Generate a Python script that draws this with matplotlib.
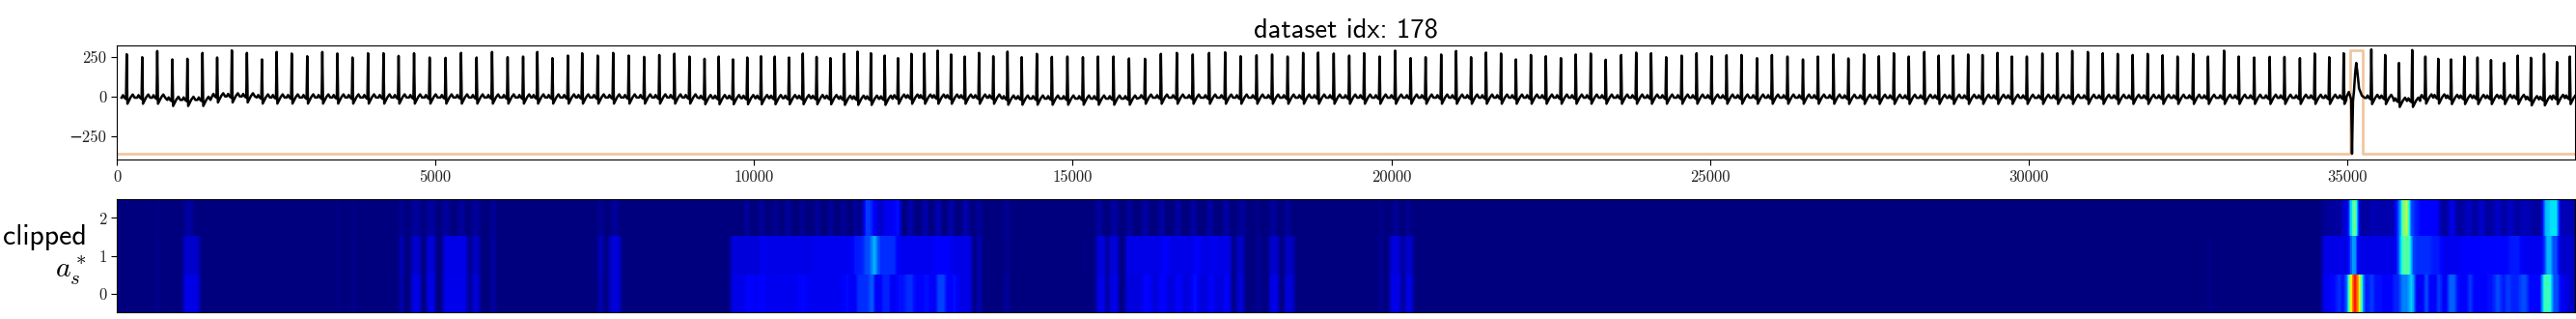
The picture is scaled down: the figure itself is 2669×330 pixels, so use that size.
import numpy as np
import matplotlib
matplotlib.use('Agg')
import matplotlib.pyplot as plt

plt.rcParams['mathtext.fontset'] = 'cm'
plt.rcParams['axes.unicode_minus'] = False

# R peak positions and heights
beat_x = [155, 399, 635, 872, 1108, 1345, 1575, 1805, 2042, 2278,
          2508, 2745, 2988, 3225, 3462, 3698, 3942, 4185, 4422, 4665,
          4909, 5159, 5402, 5646, 5889, 6133, 6376, 6599, 6836, 7079,
          7303, 7546, 7789, 8033, 8276, 8513, 8750,
          8986, 9223, 9446, 9669, 9893, 10109, 10325, 10548, 10765, 10981,
          11198, 11414, 11624, 11833, 12050, 12259, 12469, 12672, 12881, 13091,
          13307, 13530, 13754, 13977, 14200, 14437, 14673, 14917, 15160, 15397,
          15640, 15884, 16134, 16384, 16634, 16884, 17141, 17392, 17635, 17885,
          18129, 18372, 18616, 18852, 19096, 19339,
          19573, 19816, 20060, 20303, 20538, 20782, 21016, 21251, 21486, 21721,
          21955, 22190, 22425, 22660, 22894, 23129, 23364, 23607, 23842, 24077,
          24312, 24555, 24790, 25025, 25260, 25494, 25738, 25972, 26216, 26459,
          26694, 26938, 27172, 27416, 27651, 27885, 28120, 28364, 28590, 28816,
          29051, 29277, 29512, 29737, 29972, 30216, 30451, 30685, 30929, 31164,
          31398, 31633, 31868, 32103, 32337, 32581, 32816,
          33066, 33298, 33540, 33783, 34015, 34257, 34489, 34717, 34944,
          35378, 35595, 35812, 36019, 36226, 36428, 36630, 36837, 37044, 37256,
          37463, 37675, 37882, 38089, 38291, 38493]
beat_h = [265, 246, 285, 232, 236, 273, 244, 289, 273, 232,
          279, 269, 252, 279, 269, 244, 271, 271, 254, 271,
          244, 242, 273, 244, 279, 246, 250, 279, 240, 256,
          271, 256, 273, 256, 248, 260, 268,
          250, 236, 250, 232, 244, 252, 250, 244, 269, 248,
          240, 267, 281, 271, 256, 240, 267, 269, 287, 263,
          250, 273, 252, 281, 246, 267, 248, 250, 246, 250,
          250, 238, 236, 267, 273, 263, 273, 277, 252, 258,
          263, 250, 273, 275, 269, 256,
          271, 250, 287, 240, 246, 263, 285, 246, 275, 269,
          232, 260, 252, 240, 263, 269, 230, 260, 275, 271,
          246, 256, 271, 252, 258, 260, 240, 260, 250, 232,
          250, 263, 238, 263, 252, 271, 250, 279, 256, 256,
          263, 260, 273, 250, 250, 269, 271, 285, 279, 271,
          267, 260, 267, 258, 250, 267, 250,
          287, 250, 244, 248, 248, 240, 269, 246, 271,
          295, 260, 210, 291, 250, 236, 232, 250, 244, 228,
          210, 256, 242, 267, 216, 250]

# one normal beat around its R peak (offset, level above the baseline)
shape_off = [-80, -58, -36, -10, 0, 12, 40, 62, 95, 125]
shape_amp = [0, 16, 0, -8, 0, -38, -16, 2, 20, 0]

# baseline level, stepwise from these positions on
wander_x = [0, 750, 1450, 2100, 9000, 11400, 12200, 13900, 15000, 16000, 19000, 27000,
            35300, 35700, 36100, 36500, 37800, 38150]
wander_y = [-8, -22, 0, -7, -11, -15, -8, -14, -14, -8, -8, -9,
            -10, -28, -7, -10, -18, -10]

# the wide beat near 35000
pvc_x = [34990, 35025, 35062, 35075, 35090, 35105, 35125, 35141, 35160, 35185, 35230, 35270]
pvc_y = [-2, 28, -20, -360, -30, 30, 150, 210, 150, 50, 5, -8]

# orange marker
mark_x = [0, 35050, 35050, 35237, 35237, 38570]
mark_y = [-360, -360, 291, 291, -360, -360]

# heatmap spans per row: (start, end, level)
row0 = [(638, 667, .02), (1044, 1305, .09), (3462, 3497, .015), (3699, 3740, .02),
        (4436, 4505, .05), (4638, 4772, .09), (4876, 5004, .09), (5120, 5508, .095),
        (5583, 5711, .08), (5885, 5943, .04), (7566, 7636, .05), (7728, 7914, .08),
        (9640, 9871, .09), (9871, 9900, .1), (9900, 9976, .13), (9976, 10074, .1),
        (10074, 10161, .12), (10161, 10712, .1), (10712, 10828, .13), (10828, 11408, .1),
        (11408, 11495, .14), (11495, 11611, .1), (11611, 11814, .17), (11814, 11900, .22),
        (11900, 11987, .1), (11987, 12144, .16), (12144, 12231, .09), (12231, 12376, .14),
        (12376, 12527, .17), (12527, 12654, .11), (12654, 12770, .14), (12770, 12857, .1),
        (12857, 13013, .19), (13013, 13089, .11), (13089, 13187, .14), (13187, 13408, .09),
        (13495, 13582, .05), (13947, 13987, .04),
        (15367, 15530, .09), (15582, 15726, .09), (15836, 17488, .085),
        (16126, 16213, .13), (16375, 16456, .13), (16630, 16705, .12), (16879, 16966, .14),
        (17140, 17210, .12), (17389, 17453, .12),
        (17575, 17691, .08), (17894, 17940, .03), (18085, 18224, .09), (18328, 18473, .08),
        (19818, 19865, .02), (19981, 20155, .09), (20195, 20240, .07), (20240, 20346, .09),
        (32810, 32850, .015),
        (34596, 34722, .1), (34722, 34823, .13), (34823, 34899, .17), (34899, 34974, .13),
        (34974, 35025, .25), (35025, 35065, .62), (35065, 35156, .88), (35156, 35202, .65),
        (35202, 35252, .35), (35252, 35353, .15), (35353, 35404, .2), (35404, 35555, .14),
        (35555, 35706, .12), (35706, 35833, .16), (35833, 35959, .25), (35959, 36045, .33),
        (36045, 36075, .2), (36075, 36196, .1), (36196, 36262, .22), (36262, 36413, .11),
        (36413, 36464, .2), (36464, 36565, .1), (36565, 36716, .22), (36716, 36893, .12),
        (36893, 36969, .18), (36969, 37171, .12), (37171, 37297, .14), (37297, 37398, .2),
        (37398, 37499, .15), (37499, 37549, .2), (37549, 37701, .16), (37701, 37827, .2),
        (37827, 38054, .13), (38054, 38206, .42), (38206, 38332, .2), (38332, 38433, .1),
        (38433, 38584, .07)]
row1 = [(638, 667, .02), (1044, 1305, .07), (3462, 3497, .015), (3699, 3740, .02),
        (4436, 4505, .06), (4638, 4772, .07), (4876, 5004, .08), (5120, 5508, .09),
        (5583, 5711, .06), (5885, 5943, .04), (7566, 7636, .06), (7728, 7914, .08),
        (9640, 10103, .08), (10103, 10219, .1), (10219, 10915, .09), (10915, 11553, .1),
        (11553, 11727, .15), (11727, 11842, .2), (11842, 11947, .3), (11947, 12248, .17),
        (12248, 12828, .1), (12828, 13089, .11), (13089, 13408, .09),
        (13495, 13582, .05), (13958, 13987, .03), (15169, 15204, .015),
        (15367, 15530, .08), (15582, 15726, .08), (15836, 17488, .09),
        (16415, 16502, .11), (16908, 16995, .11), (17169, 17256, .1),
        (17575, 17691, .07), (17894, 17940, .03), (18085, 18224, .07), (18328, 18473, .06),
        (19818, 19865, .02), (19981, 20155, .08), (20195, 20346, .07), (32810, 32850, .015),
        (34596, 35025, .09), (35025, 35075, .2), (35075, 35116, .4), (35116, 35166, .18),
        (35166, 35782, .09), (35782, 35843, .25), (35843, 35984, .45), (35984, 36060, .2),
        (36060, 36312, .17), (36312, 36464, .15), (36464, 36792, .1), (36792, 37044, .12),
        (37044, 37549, .13), (37549, 37726, .15), (37726, 38079, .1), (38079, 38130, .2),
        (38130, 38180, .38), (38180, 38307, .2), (38307, 38584, .07)]
row2 = [(638, 667, .015), (1062, 1201, .03), (3462, 3497, .01), (3699, 3740, .015),
        (4436, 4505, .02), (4638, 4772, .025), (4876, 5004, .03), (5131, 5218, .03),
        (5375, 5467, .03), (5583, 5711, .025), (5885, 5943, .03), (7566, 7636, .02),
        (7769, 7856, .03),
        (9871, 9929, .035), (10092, 10150, .035), (10306, 10364, .035), (10509, 10567, .035),
        (10741, 10799, .035), (10973, 11031, .035), (11176, 11234, .035), (11379, 11437, .035),
        (11582, 11640, .035), (11726, 11842, .18), (11842, 11900, .14), (11900, 11958, .09),
        (11958, 12016, .06), (12016, 12219, .1), (12219, 12295, .14), (12422, 12509, .05),
        (12654, 12724, .05), (12845, 12932, .05), (13060, 13129, .05), (13292, 13361, .05),
        (13495, 13570, .03), (13947, 13987, .03),
        (15372, 15470, .035), (15604, 15702, .035), (15865, 15934, .035), (16108, 16189, .04),
        (16357, 16444, .04), (16618, 16688, .04), (16862, 16943, .04), (17111, 17186, .04),
        (17360, 17442, .04), (17615, 17697, .03), (17882, 17928, .015), (18097, 18184, .03),
        (18346, 18404, .035), (19818, 19865, .015), (20040, 20100, .03), (20250, 20300, .03),
        (34596, 34722, .02), (34722, 34924, .03), (34924, 35025, .08), (35025, 35065, .3),
        (35065, 35151, .5), (35151, 35176, .2), (35176, 35353, .03), (35353, 35429, .05),
        (35429, 35757, .04), (35757, 35833, .18), (35833, 35873, .4), (35873, 35959, .58),
        (35959, 36035, .2), (36035, 36136, .15), (36136, 36439, .12), (36439, 36590, .03),
        (36590, 36691, .09), (36691, 36843, .03), (36843, 36944, .06), (36944, 37044, .03),
        (37044, 37145, .07), (37145, 37297, .03), (37297, 37398, .07), (37398, 37499, .03),
        (37499, 37600, .06), (37600, 37701, .03), (37701, 37878, .05), (37878, 38079, .03),
        (38079, 38155, .3), (38155, 38317, .35), (38317, 38584, .05)]

x_end = 38570
bin_w = 16

# build the trace beat by beat
xs, ys = [], []
for bx, bh in zip(beat_x, beat_h):
    base = wander_y[np.searchsorted(wander_x, bx, side='right') - 1]
    for off, amp in zip(shape_off, shape_amp):
        if bx < pvc_x[0] and bx + off >= pvc_x[0]:
            continue
        xs.append(bx + off)
        ys.append(bh if off == 0 else base + amp)
    if bx == 34944:
        xs += pvc_x
        ys += pvc_y

# build the heatmap
n_bins = int(x_end / bin_w)
grid = np.zeros((3, n_bins))
for r, spans in enumerate([row0, row1, row2]):
    for a, b, level in spans:
        grid[r, int(a / bin_w):int(b / bin_w)] = level
kernel = np.ones(5) / 5
grid = np.array([np.convolve(g, kernel, mode='same') for g in grid])

W, H = 2669, 330
fig = plt.figure(figsize=(W / 100, H / 100), dpi=100)
ax1 = fig.add_axes([121 / W, 1 - 165 / H, 2546.7 / W, 118 / H])
ax2 = fig.add_axes([121 / W, 1 - 323.3 / H, 2546.7 / W, 117.5 / H])

ax1.plot(mark_x, mark_y, color='#f0c6a0', lw=2.0)
ax1.plot(xs, ys, color='black', lw=1.8)
ax1.set_xlim(0, x_end)
ax1.set_ylim(-396, 320)
ax1.set_xticks([0, 5000, 10000, 15000, 20000, 25000, 30000, 35000])
ax1.set_yticks([-250, 0, 250])
ax1.tick_params(labelsize=12, labelcolor='#222222', length=4)
for lab in ax1.get_xticklabels() + ax1.get_yticklabels():
    lab.set_family('cmr10')
ax1.set_yticklabels(['\u2212250', '0', '250'], family=['cmr10', 'DejaVu Sans'])
ax1.set_title('dataset idx: 178', family='cmss10', fontsize=20.5, pad=6)

ax2.imshow(grid, cmap='jet', vmin=0, vmax=1, aspect='auto', origin='lower',
           interpolation='nearest')
ax2.set_xticks([])
ax2.set_yticks([0, 1, 2])
ax2.tick_params(labelsize=12, labelcolor='#222222', length=4)
for lab in ax2.get_yticklabels():
    lab.set_family('cmr10')
ax2.set_ylabel('clipped\n$a_s^*$', rotation=0, ha='right', va='center',
               family='cmss10', fontsize=21.5, labelpad=9)

fig.savefig('out.png', dpi=100)
